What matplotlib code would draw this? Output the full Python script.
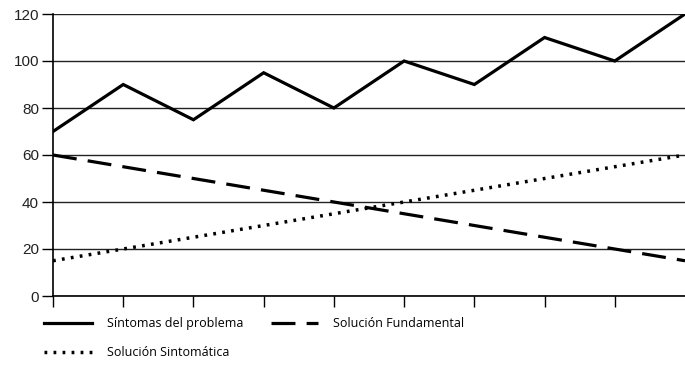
import matplotlib
matplotlib.use("Agg")
import matplotlib.pyplot as plt

# Values (10 points, x = 0..9)
periods = list(range(10))
sintomas = [70, 90, 75, 95, 80, 100, 90, 110, 100, 120]
fundamental = [60, 55, 50, 45, 40, 35, 30, 25, 20, 15]
sintomatica = [15, 20, 25, 30, 35, 40, 45, 50, 55, 60]
y_ticks = [0, 20, 40, 60, 80, 100, 120]

fig = plt.figure(figsize=(6.85, 3.78), dpi=100)
ax = fig.add_axes([53 / 685, 82 / 378, 632 / 685, 282 / 378])

# horizontal grid lines
for y in y_ticks:
    ax.axhline(y, color="#222222", linewidth=1.0, zorder=1)

l1, = ax.plot(periods, sintomas, color="black", linewidth=2.3,
              solid_joinstyle="miter", label="Síntomas del problema", zorder=3)
l2, = ax.plot(periods, fundamental, color="black", linewidth=2.3,
              linestyle=(0, (7.5, 3.5)), label="Solución Fundamental", zorder=3)
l3, = ax.plot(periods, sintomatica, color="black", linewidth=2.5,
              linestyle=(0, (0.8, 1.8)), label="Solución Sintomática", zorder=3)

ax.set_xlim(0, 9)
ax.set_ylim(0, 120)
ax.set_xticks(periods[:-1])
ax.set_xticklabels([])
ax.set_yticks(y_ticks)
ax.tick_params(axis="x", direction="out", length=8, width=1, color="black")
ax.tick_params(axis="y", direction="out", length=8, width=1, color="black",
               labelsize=11, pad=2)
for lab in ax.get_yticklabels():
    lab.set_fontfamily("Liberation Sans")
    lab.set_color("#222222")

for side in ["top", "right"]:
    ax.spines[side].set_visible(False)
ax.spines["left"].set_linewidth(1.2)
ax.spines["bottom"].set_linewidth(1.2)

# legend: row 1 = Síntomas, Fundamental; row 2 = Sintomática
fig.legend([l1, l3, l2],
           ["Síntomas del problema", "Solución Sintomática", "Solución Fundamental"],
           ncol=2, loc="upper left", bbox_to_anchor=(33 / 685, 1 - 306 / 378),
           frameon=False, handlelength=3.8, handletextpad=1.2,
           columnspacing=2.2, labelspacing=1.3,
           prop={"family": "Open Sans", "size": 9})

fig.savefig("out.png", dpi=100)
